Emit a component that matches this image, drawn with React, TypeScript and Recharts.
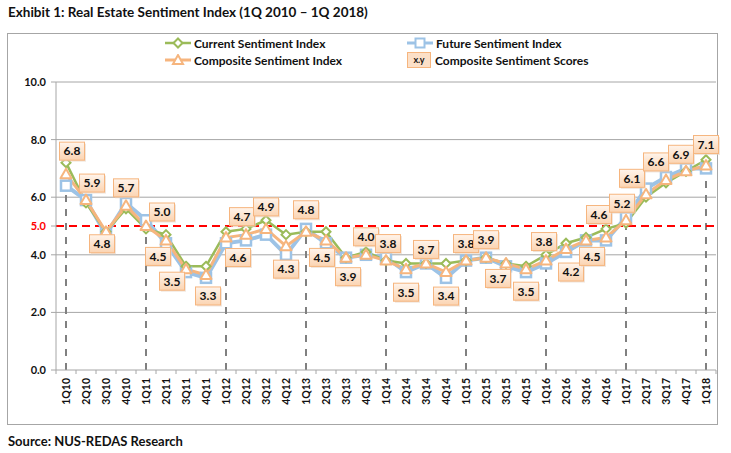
import React from "react";
import {
  LineChart,
  Line,
  XAxis,
  YAxis,
  CartesianGrid,
  ReferenceLine,
  LabelList,
} from "recharts";

// Quarters 1Q10 .. 1Q18
const QUARTERS = [
  "1Q10", "2Q10", "3Q10", "4Q10",
  "1Q11", "2Q11", "3Q11", "4Q11",
  "1Q12", "2Q12", "3Q12", "4Q12",
  "1Q13", "2Q13", "3Q13", "4Q13",
  "1Q14", "2Q14", "3Q14", "4Q14",
  "1Q15", "2Q15", "3Q15", "4Q15",
  "1Q16", "2Q16", "3Q16", "4Q16",
  "1Q17", "2Q17", "3Q17", "4Q17",
  "1Q18",
];

const CURRENT = [
  7.2, 5.8, 4.8, 5.6, 4.9, 4.7, 3.6, 3.6, 4.8, 4.9, 5.2, 4.7, 4.8, 4.8, 3.9, 4.1, 3.8,
  3.7, 3.7, 3.7, 3.8, 3.9, 3.7, 3.6, 4.0, 4.4, 4.6, 4.9, 5.1, 6.0, 6.5, 6.9, 7.3,
];

const FUTURE = [
  6.4, 5.9, 4.7, 5.8, 5.2, 4.4, 3.4, 3.2, 4.4, 4.5, 4.7, 4.0, 4.9, 4.4, 3.9, 4.0, 3.9,
  3.4, 3.7, 3.2, 3.8, 3.9, 3.6, 3.4, 3.7, 4.1, 4.5, 4.5, 5.3, 6.3, 6.7, 7.0, 7.0,
];

const COMPOSITE = [
  6.8, 5.9, 4.8, 5.7, 5.0, 4.5, 3.5, 3.3, 4.6, 4.7, 4.9, 4.3, 4.8, 4.5, 3.9, 4.0, 3.8,
  3.5, 3.7, 3.4, 3.8, 3.9, 3.7, 3.5, 3.8, 4.2, 4.5, 4.6, 5.2, 6.1, 6.6, 6.9, 7.1,
];

const Y_TICKS = [0, 2, 4, 5, 6, 8, 10];
const THRESHOLD = 5;

// label box placement (dx, dy from the point) – layout only
const LABEL_OFFSETS: [number, number][] = [
  [6, -23], [6, -17], [-4, 12], [0, -18], [16, -14], [-8, 16], [-14, 12], [2, 21],
  [12, 20], [-4, -18], [0, -22], [0, 23], [0, -22], [-4, 17], [2, 19], [0, -18],
  [2, -17], [0, 23], [0, -14], [0, 24], [0, -17], [0, -18], [-8, 15], [0, 22],
  [-2, -19], [5, 23], [6, 16], [-7, -23], [-4, -17], [-14, -16], [-10, -18], [-5, -17],
  [0, -21],
];

const GREEN = "#9BBB59";
const BLUE = "#9DC3E6";
const ORANGE = "#F6B57E";
const FONT = "Lato, 'Liberation Sans', sans-serif";

const data = QUARTERS.map((q, i) => ({
  q,
  current: CURRENT[i],
  future: FUTURE[i],
  composite: COMPOSITE[i],
}));

const Diamond = (props: any) => {
  const { cx, cy } = props;
  if (cx == null || cy == null) return null;
  const r = 4.5;
  return (
    <polygon
      points={`${cx},${cy - r} ${cx + r},${cy} ${cx},${cy + r} ${cx - r},${cy}`}
      fill="#fff"
      stroke={GREEN}
      strokeWidth={2}
    />
  );
};

const Square = (props: any) => {
  const { cx, cy } = props;
  if (cx == null || cy == null) return null;
  return (
    <rect x={cx - 5} y={cy - 5} width={10} height={10} fill="#fff" stroke={BLUE} strokeWidth={2.5} />
  );
};

const Triangle = (props: any) => {
  const { cx, cy } = props;
  if (cx == null || cy == null) return null;
  return (
    <polygon
      points={`${cx},${cy - 5.5} ${cx + 5.5},${cy + 4} ${cx - 5.5},${cy + 4}`}
      fill="#fff"
      stroke={ORANGE}
      strokeWidth={2}
      strokeLinejoin="round"
    />
  );
};

const ScoreLabel = (props: any) => {
  const { x, y, value, index } = props;
  if (x == null || y == null) return null;
  const [dx, dy] = LABEL_OFFSETS[index] ?? [0, -20];
  const w = 25;
  const h = 18;
  const cx = x + dx;
  const cy = y + dy;
  return (
    <g>
      <rect x={cx - w / 2 + 1.5} y={cy - h / 2 + 1.5} width={w} height={h} fill="#E6D5C8" opacity={0.6} />
      <rect x={cx - w / 2} y={cy - h / 2} width={w} height={h} fill="url(#lblGrad)" stroke={ORANGE} strokeWidth={1} />
      <text
        x={cx}
        y={cy}
        dy="0.36em"
        textAnchor="middle"
        fontFamily={FONT}
        fontWeight={700}
        fontSize={12}
        fill="#111"
      >
        {Number(value).toFixed(1)}
      </text>
    </g>
  );
};

const YTick = (props: any) => {
  const { x, y, payload } = props;
  const red = payload.value === THRESHOLD;
  return (
    <text
      x={x}
      y={y}
      dy="0.36em"
      textAnchor="end"
      fontFamily={FONT}
      fontWeight={700}
      fontSize={11}
      fill={red ? "#FF0000" : "#111"}
    >
      {Number(payload.value).toFixed(1)}
    </text>
  );
};

const XTick = (props: any) => {
  const { x, y, payload, index } = props;
  return (
    <g>
      {index === 0 && <line x1={x - 10} x2={x - 10} y1={y} y2={y + 4} stroke="#A6A6A6" />}
      <line x1={x + 10} x2={x + 10} y1={y} y2={y + 4} stroke="#A6A6A6" />
      <text
        transform={`translate(${x},${y + 8}) rotate(-90)`}
        dy="0.36em"
        textAnchor="end"
        fontFamily={FONT}
        fontWeight={700}
        fontSize={10.5}
        fill="#111"
      >
        {payload.value}
      </text>
    </g>
  );
};

function LegendItem({ kind, label, left, top }: { kind: string; label: string; left: number; top: number }) {
  let marker: React.ReactNode = null;
  if (kind === "current") {
    marker = (
      <svg width={26} height={12}>
        <line x1={0} x2={26} y1={6} y2={6} stroke={GREEN} strokeWidth={2.5} />
        <polygon points="13,1.5 17.5,6 13,10.5 8.5,6" fill="#fff" stroke={GREEN} strokeWidth={2} />
      </svg>
    );
  } else if (kind === "future") {
    marker = (
      <svg width={26} height={12}>
        <line x1={0} x2={26} y1={6} y2={6} stroke={BLUE} strokeWidth={3} />
        <rect x={8.5} y={1.5} width={9} height={9} fill="#fff" stroke={BLUE} strokeWidth={2} />
      </svg>
    );
  } else if (kind === "composite") {
    marker = (
      <svg width={26} height={12}>
        <line x1={0} x2={26} y1={6} y2={6} stroke={ORANGE} strokeWidth={3} />
        <polygon points="13,1 18,10 8,10" fill="#fff" stroke={ORANGE} strokeWidth={2} />
      </svg>
    );
  } else {
    marker = (
      <svg width={26} height={16}>
        <rect x={1.5} y={0.5} width={23} height={15} fill="#FCE0C8" stroke={ORANGE} strokeWidth={1} />
        <text x={13} y={8} dy="0.36em" textAnchor="middle" fontFamily={FONT} fontWeight={700} fontSize={9} fill="#111">
          x.y
        </text>
      </svg>
    );
  }
  return (
    <div style={{ position: "absolute", left, top, display: "flex", alignItems: "center", height: 16 }}>
      {marker}
      <span style={{ marginLeft: 3, fontFamily: FONT, fontWeight: 700, fontSize: 12, color: "#111", whiteSpace: "nowrap" }}>
        {label}
      </span>
    </div>
  );
}

export default function App() {
  return (
    <div style={{ position: "absolute", left: 0, top: 0, width: 731, height: 453, background: "#fff" }}>
      <div
        style={{
          position: "absolute",
          left: 8,
          top: 4,
          fontFamily: FONT,
          fontWeight: 700,
          fontSize: 13.5,
          color: "#111",
          whiteSpace: "nowrap",
        }}
      >
        Exhibit 1: Real Estate Sentiment Index (1Q 2010 – 1Q 2018)
      </div>
      <div
        style={{
          position: "absolute",
          left: 7,
          top: 33,
          width: 711,
          height: 392,
          border: "1px solid #A6A6A6",
          boxSizing: "border-box",
        }}
      />
      <LegendItem kind="current" label="Current Sentiment Index" left={165} top={35} />
      <LegendItem kind="future" label="Future Sentiment Index" left={407} top={35} />
      <LegendItem kind="composite" label="Composite Sentiment Index" left={165} top={52} />
      <LegendItem kind="scores" label="Composite Sentiment Scores" left={406} top={52} />
      <div style={{ position: "absolute", left: 0, top: 0 }}>
        <LineChart width={731} height={453} data={data} margin={{ top: 82, right: 15, bottom: 43, left: 16 }}>
          <defs>
            <linearGradient id="lblGrad" x1="0" y1="0" x2="0" y2="1">
              <stop offset="0%" stopColor="#FFF4EB" />
              <stop offset="100%" stopColor="#FBD4B2" />
            </linearGradient>
          </defs>
          <CartesianGrid horizontal vertical={false} horizontalValues={[2, 4, 6, 8, 10]} stroke="#A6A6A6" strokeWidth={1} />
          <XAxis
            dataKey="q"
            type="category"
            interval={0}
            padding={{ left: 10, right: 10 }}
            height={40}
            tickSize={0}
            tickMargin={0}
            tickLine={false}
            axisLine={{ stroke: "#A6A6A6" }}
            tick={<XTick />}
          />
          <YAxis
            type="number"
            domain={[0, 10]}
            ticks={Y_TICKS}
            interval={0}
            width={40}
            tickSize={5}
            tickMargin={5}
            axisLine={{ stroke: "#A6A6A6" }}
            tickLine={{ stroke: "#A6A6A6" }}
            tick={<YTick />}
          />
          {QUARTERS.map((q, i) =>
            q.startsWith("1Q") ? (
              <ReferenceLine
                key={q}
                segment={[
                  { x: q, y: 0 },
                  { x: q, y: COMPOSITE[i] },
                ]}
                stroke="#808080"
                strokeWidth={2}
                strokeDasharray="7 7"
              />
            ) : null
          )}
          <ReferenceLine y={THRESHOLD} stroke="#FF0000" strokeWidth={2} strokeDasharray="8 5" />
          <Line
            dataKey="future"
            stroke={BLUE}
            strokeWidth={4}
            dot={<Square />}
            isAnimationActive={false}
          />
          <Line
            dataKey="current"
            stroke={GREEN}
            strokeWidth={2.5}
            dot={<Diamond />}
            isAnimationActive={false}
          />
          <Line
            dataKey="composite"
            stroke={ORANGE}
            strokeWidth={3}
            dot={<Triangle />}
            isAnimationActive={false}
          >
            <LabelList dataKey="composite" content={<ScoreLabel />} />
          </Line>
        </LineChart>
      </div>
      <div
        style={{
          position: "absolute",
          left: 8,
          top: 433,
          fontFamily: FONT,
          fontWeight: 700,
          fontSize: 13,
          color: "#111",
          whiteSpace: "nowrap",
        }}
      >
        Source: NUS-REDAS Research
      </div>
    </div>
  );
}
